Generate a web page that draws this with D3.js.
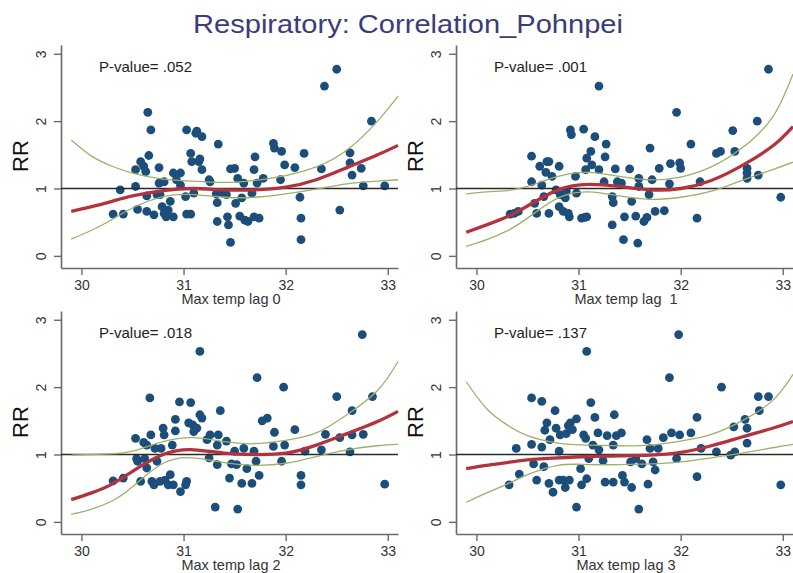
<!DOCTYPE html>
<html>
<head>
<meta charset="utf-8">
<script src="https://cdn.jsdelivr.net/npm/d3@7"></script>
<style>
  html, body { margin: 0; padding: 0; background: #fff; }
  svg { display: block; font-family: "Liberation Sans", Arial, sans-serif; }
</style>
</head>
<body>
<svg id="chart" width="793" height="573"></svg>
<script>
// ---------- DATA ----------
const titleText = "Respiratory: Correlation_Pohnpei";
const panelLabels = ["Max temp lag 0", "Max temp lag  1", "Max temp lag 2", "Max temp lag 3"];
const pValues = ["P-value= .052", "P-value= .001", "P-value= .018", "P-value= .137"];
const xTicks = [30, 31, 32, 33];
const yTicks = [0, 1, 2, 3];

// scatter points (x = max temp, y = RR)
const lag0X = [30.31,30.38,30.41,30.53,30.53,30.55,30.58,30.61,30.63,30.65,30.68,30.66,30.64,30.64,30.71,30.76,30.76,30.74,30.77,30.81,30.79,30.81,30.83,30.85,30.87,30.90,30.90,30.93,30.97,30.97,31.02,31.03,31.07,31.03,31.07,31.08,31.10,31.12,31.13,31.15,31.16,31.18,31.18,31.25,31.26,31.32,31.33,31.33,31.34,31.38,31.42,31.43,31.44,31.46,31.50,31.46,31.51,31.53,31.55,31.57,31.59,31.60,31.63,31.67,31.69,31.70,31.69,31.72,31.74,31.78,31.88,31.89,31.96,31.95,31.99,32.09,32.14,32.15,32.15,32.18,32.35,32.38,32.50,32.53,32.63,32.63,32.65,32.74,32.76,32.84,32.97];
const lag0Y = [0.62,0.98,0.62,1.03,1.28,0.69,1.40,1.33,1.25,2.13,1.87,1.49,0.89,0.66,0.61,1.31,1.08,0.91,0.91,1.10,0.73,0.63,0.58,0.68,0.81,0.58,1.23,1.13,1.23,1.05,0.88,0.62,0.62,1.87,1.52,1.40,0.93,1.82,1.85,1.40,1.44,1.77,1.28,1.13,1.10,0.92,0.79,0.51,1.66,0.93,0.91,0.58,0.46,1.29,1.30,0.20,0.78,1.15,0.59,0.86,1.08,0.53,0.51,0.93,0.58,1.47,1.28,1.08,0.56,1.15,1.67,1.60,1.55,1.13,1.35,1.31,0.87,0.56,0.24,1.52,1.29,2.52,2.77,0.68,1.53,1.38,1.20,1.30,1.04,2.00,1.04];

const lag1X = [30.33,30.37,30.41,30.54,30.54,30.57,30.59,30.62,30.64,30.66,30.68,30.69,30.71,30.71,30.74,30.78,30.81,30.81,30.82,30.85,30.87,30.88,30.90,30.91,30.92,30.93,30.97,30.98,31.03,31.05,31.06,31.08,31.07,31.08,31.12,31.13,31.16,31.20,31.20,31.25,31.26,31.27,31.33,31.34,31.33,31.36,31.38,31.42,31.45,31.44,31.50,31.52,31.56,31.58,31.59,31.59,31.64,31.67,31.69,31.70,31.72,31.75,31.79,31.84,31.89,31.90,31.96,31.99,32.00,32.10,32.16,32.19,32.35,32.39,32.51,32.53,32.65,32.65,32.65,32.75,32.76,32.86,32.98];
const lag1Y = [0.62,0.63,0.66,1.48,1.10,0.78,0.63,1.33,1.05,0.88,1.24,1.40,1.40,0.63,1.18,0.98,1.33,0.73,0.91,0.66,0.86,0.96,0.63,0.58,1.87,1.80,1.18,0.93,0.56,1.88,0.57,0.58,1.28,1.45,1.55,1.35,1.77,2.52,1.28,1.10,1.47,1.66,0.88,0.79,0.46,1.29,1.10,1.08,0.58,0.24,1.29,0.81,0.59,0.19,1.15,1.03,0.51,0.57,0.91,1.60,1.13,0.66,1.30,0.67,1.07,1.37,2.13,1.38,1.30,1.66,0.56,1.10,1.52,1.55,1.86,1.55,1.30,1.23,1.15,2.00,1.20,2.77,0.87];

const lag2X = [30.31,30.41,30.53,30.54,30.55,30.58,30.61,30.62,30.64,30.64,30.67,30.68,30.69,30.71,30.72,30.74,30.77,30.78,30.80,30.81,30.82,30.85,30.87,30.89,30.90,30.92,30.92,30.96,30.97,31.02,31.03,31.07,31.05,31.09,31.10,31.13,31.16,31.18,31.16,31.23,31.25,31.26,31.33,31.34,31.33,31.36,31.31,31.42,31.45,31.47,31.50,31.52,31.53,31.57,31.59,31.62,31.67,31.69,31.71,31.72,31.74,31.77,31.82,31.88,31.89,31.96,31.98,31.99,32.09,32.15,32.15,32.19,32.35,32.39,32.50,32.53,32.63,32.65,32.65,32.75,32.76,32.85,32.97];
const lag2Y = [0.61,0.65,1.24,0.94,0.90,0.60,1.18,0.94,0.80,1.14,1.84,1.29,0.60,0.55,1.09,0.90,0.60,1.09,1.39,1.29,0.62,0.55,0.70,1.14,0.55,1.52,1.35,1.78,0.45,0.55,0.60,1.77,1.47,1.44,1.34,1.39,1.59,1.54,2.53,1.22,0.95,1.29,1.14,1.29,0.85,1.65,0.22,1.20,0.65,0.86,1.05,0.85,0.19,0.57,1.09,0.79,0.57,1.05,0.90,2.14,0.69,1.50,1.54,1.12,1.33,0.90,2.00,1.14,1.37,0.69,0.55,1.05,1.07,1.30,1.86,1.25,1.04,1.65,1.29,2.78,1.30,1.86,0.56];

const lag3X = [30.32,30.39,30.42,30.54,30.54,30.56,30.59,30.64,30.64,30.66,30.67,30.69,30.71,30.72,30.75,30.77,30.78,30.81,30.81,30.82,30.85,30.87,30.88,30.90,30.91,30.92,30.94,30.98,30.98,31.02,31.03,31.05,31.07,31.08,31.08,31.10,31.12,31.14,31.16,31.19,31.20,31.24,31.26,31.28,31.34,31.34,31.35,31.37,31.42,31.43,31.45,31.51,31.52,31.56,31.59,31.62,31.67,31.68,31.70,31.73,31.75,31.78,31.83,31.89,31.91,31.96,31.98,31.99,32.10,32.16,32.16,32.20,32.35,32.40,32.49,32.52,32.53,32.63,32.65,32.65,32.76,32.77,32.86,32.98];
const lag3Y = [0.55,1.09,0.71,1.84,1.15,0.86,0.62,1.79,1.11,0.82,1.36,1.47,0.57,1.22,0.44,1.65,1.39,0.62,1.05,1.29,0.62,0.51,1.31,1.43,0.62,1.47,1.37,1.53,0.22,0.79,0.55,1.29,1.24,0.64,2.53,0.94,1.77,1.14,1.55,1.32,1.07,0.91,0.59,1.28,1.14,0.59,1.59,1.28,1.32,0.69,0.59,0.89,0.51,0.94,0.19,0.86,1.22,0.56,1.09,0.89,0.77,1.09,1.25,2.14,1.32,0.94,2.78,1.29,1.32,1.55,0.67,1.09,1.04,2.00,0.99,1.41,1.04,1.52,1.39,1.17,1.86,1.65,1.86,0.55];

// fitted curve (RR) and 95% CI, read at these temperatures
const curveX = [29.9, 30.1, 30.3, 30.5, 30.8, 31.1, 31.4, 31.7, 32.0, 32.3, 32.6, 32.9, 33.1];
const lag0Fit   = [0.66, 0.73, 0.81, 0.89, 0.97, 1.00, 0.98, 0.98, 1.02, 1.13, 1.31, 1.50, 1.64];
const lag0Upper = [1.72, 1.48, 1.33, 1.23, 1.14, 1.11, 1.09, 1.12, 1.19, 1.32, 1.57, 2.00, 2.37];
const lag0Lower = [0.25, 0.38, 0.54, 0.71, 0.88, 0.91, 0.87, 0.87, 0.92, 0.99, 1.07, 1.11, 1.13];

const lag1Fit   = [0.35, 0.46, 0.58, 0.74, 0.98, 1.06, 1.03, 0.98, 1.00, 1.12, 1.34, 1.63, 1.92];
const lag1Upper = [0.92, 0.95, 0.97, 1.03, 1.18, 1.24, 1.18, 1.13, 1.17, 1.32, 1.60, 2.06, 2.70];
const lag1Lower = [0.14, 0.24, 0.37, 0.56, 0.86, 0.95, 0.89, 0.84, 0.87, 0.96, 1.12, 1.28, 1.39];

const lag2Fit   = [0.33, 0.43, 0.56, 0.75, 1.00, 1.07, 1.02, 1.00, 1.02, 1.14, 1.31, 1.49, 1.64];
const lag2Upper = [0.99, 1.00, 1.01, 1.05, 1.19, 1.25, 1.19, 1.16, 1.21, 1.32, 1.59, 1.95, 2.38];
const lag2Lower = [0.11, 0.19, 0.31, 0.52, 0.87, 0.95, 0.88, 0.84, 0.87, 0.97, 1.07, 1.13, 1.15];

const lag3Fit   = [0.79, 0.84, 0.88, 0.92, 0.95, 0.97, 0.98, 0.99, 1.03, 1.13, 1.26, 1.39, 1.49];
const lag3Upper = [2.08, 1.68, 1.44, 1.28, 1.17, 1.14, 1.13, 1.14, 1.20, 1.30, 1.50, 1.80, 2.19];
const lag3Lower = [0.29, 0.43, 0.56, 0.70, 0.84, 0.85, 0.85, 0.86, 0.89, 0.95, 1.02, 1.10, 1.15];

// ---------- DRAW ----------
const panels = [
  {x: lag0X, y: lag0Y, fit: lag0Fit, up: lag0Upper, lo: lag0Lower},
  {x: lag1X, y: lag1Y, fit: lag1Fit, up: lag1Upper, lo: lag1Lower},
  {x: lag2X, y: lag2Y, fit: lag2Fit, up: lag2Upper, lo: lag2Lower},
  {x: lag3X, y: lag3Y, fit: lag3Fit, up: lag3Upper, lo: lag3Lower}
];
const offsets = [[0, 0], [395, 0], [0, 266], [395, 266]];

const svg = d3.select("#chart");

svg.append("text")
  .attr("x", 408).attr("y", 33)
  .attr("text-anchor", "middle")
  .attr("font-size", 26)
  .attr("textLength", 430)
  .attr("lengthAdjust", "spacingAndGlyphs")
  .attr("fill", "#3b3c7a")
  .text(titleText);

const dotColor = "#1c4e7c";
const fitColor = "#b2333b";
const ciColor = "#9db06a";
const axisColor = "#6a6a6a";

panels.forEach((p, i) => {
  const [dx, dy] = offsets[i];
  const g = svg.append("g").attr("transform", `translate(${dx},${dy})`);
  const x = d3.scaleLinear().domain([29.8, 33.1]).range([61, 398]);
  const y = d3.scaleLinear().domain([-0.18, 3.13]).range([268, 45]);

  // axes
  const yAxis = g.append("g").attr("transform", "translate(61,0)")
    .call(d3.axisLeft(y).tickValues(yTicks).tickSize(7).tickSizeOuter(0).tickFormat(d3.format("d")));
  yAxis.select(".domain").attr("stroke", axisColor).attr("stroke-width", 1.6);
  yAxis.selectAll(".tick line").attr("stroke", axisColor).attr("stroke-width", 1.4);
  yAxis.selectAll(".tick text")
    .attr("x", 0).attr("dy", null).attr("y", 0)
    .attr("text-anchor", "middle")
    .attr("transform", "translate(-15,0) rotate(-90)")
    .attr("font-size", 14).attr("fill", "#333");

  const xAxis = g.append("g").attr("transform", "translate(0,268)")
    .call(d3.axisBottom(x).tickValues(xTicks).tickSize(7).tickSizeOuter(0).tickFormat(d3.format("d")));
  xAxis.select(".domain").attr("stroke", axisColor).attr("stroke-width", 1.6);
  xAxis.selectAll(".tick line").attr("stroke", axisColor).attr("stroke-width", 1.4);
  xAxis.selectAll(".tick text").attr("y", 12).attr("font-size", 14).attr("fill", "#333");

  // axis titles
  g.append("text")
    .attr("transform", "translate(28,156) rotate(-90)")
    .attr("text-anchor", "middle")
    .attr("font-size", 22).attr("fill", "#111")
    .text("RR");
  g.append("text")
    .attr("x", 231).attr("y", 304)
    .attr("text-anchor", "middle")
    .attr("font-size", 14.5).attr("fill", "#333")
    .style("white-space", "pre")
    .text(panelLabels[i]);

  // P-value
  g.append("text")
    .attr("x", 99).attr("y", 72)
    .attr("font-size", 15).attr("fill", "#222")
    .text(pValues[i]);

  // dots
  g.append("g").selectAll("circle")
    .data(p.x.map((v, k) => [v, p.y[k]]))
    .join("circle")
    .attr("cx", d => x(d[0])).attr("cy", d => y(d[1]))
    .attr("r", 4.4).attr("fill", dotColor);

  // reference line RR = 1
  g.append("line")
    .attr("x1", x(29.8)).attr("x2", x(33.1))
    .attr("y1", y(1)).attr("y2", y(1))
    .attr("stroke", "#2a2a2a").attr("stroke-width", 1.6);

  const line = d3.line().x(d => x(d[0])).y(d => y(d[1])).curve(d3.curveNatural);
  const mk = arr => curveX.map((v, k) => [v, arr[k]]);
  g.append("path").attr("d", line(mk(p.up))).attr("fill", "none").attr("stroke", ciColor).attr("stroke-width", 1.3);
  g.append("path").attr("d", line(mk(p.lo))).attr("fill", "none").attr("stroke", ciColor).attr("stroke-width", 1.3);
  g.append("path").attr("d", line(mk(p.fit))).attr("fill", "none").attr("stroke", fitColor).attr("stroke-width", 3.3);
});
</script>
</body>
</html>
